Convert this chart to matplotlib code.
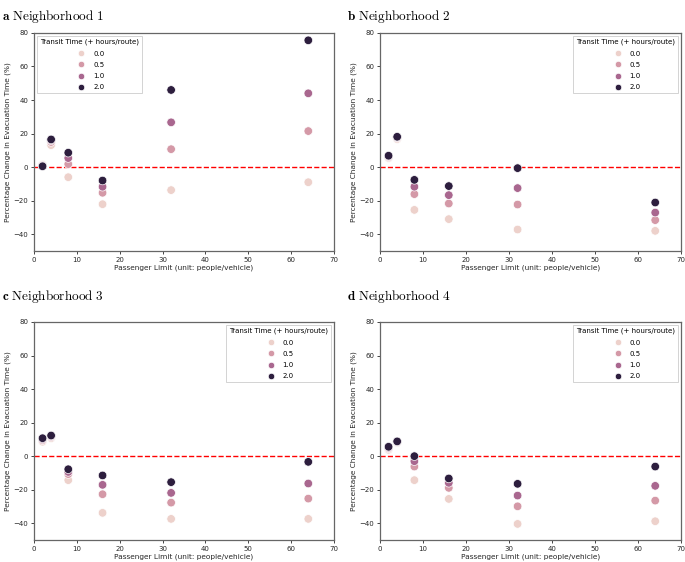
import matplotlib

matplotlib.use("Agg")

import matplotlib.pyplot as plt
import pandas as pd
import seaborn as sns

PASSENGER_LIMITS = [2, 4, 8, 16, 32, 64]
TRANSIT_TIMES = [0.0, 0.5, 1.0, 2.0]

# percentage change, one list per transit time (0.0, 0.5, 1.0, 2.0)
N1_T00 = [1.5, 13.1, -6.0, -22.1, -13.7, -9.0]
N1_T05 = [1.0, 15.0, 1.8, -15.3, 10.7, 21.5]
N1_T10 = [0.8, 16.0, 5.4, -11.7, 26.7, 44.0]
N1_T20 = [0.5, 16.5, 8.6, -8.0, 46.0, 75.6]

N2_T00 = [5.4, 16.7, -25.5, -31.0, -37.2, -38.0]
N2_T05 = [6.0, 17.5, -16.1, -21.7, -22.3, -31.6]
N2_T10 = [6.4, 17.8, -11.7, -16.7, -12.5, -27.1]
N2_T20 = [6.8, 18.1, -7.6, -11.3, -0.6, -21.1]

N3_T00 = [8.6, 10.7, -14.3, -33.8, -37.4, -37.4]
N3_T05 = [9.5, 11.5, -10.7, -22.7, -27.7, -25.3]
N3_T10 = [10.2, 12.0, -9.4, -17.1, -21.9, -16.3]
N3_T20 = [10.7, 12.3, -7.8, -11.5, -15.5, -3.4]

N4_T00 = [3.8, 8.0, -14.3, -25.5, -40.4, -38.8]
N4_T05 = [4.6, 8.4, -6.2, -18.9, -29.9, -26.5]
N4_T10 = [5.1, 8.6, -3.0, -15.9, -23.5, -17.7]
N4_T20 = [5.6, 8.8, 0.0, -13.3, -16.5, -6.2]

PANELS = [
    ("a", "1", [N1_T00, N1_T05, N1_T10, N1_T20], "upper left"),
    ("b", "2", [N2_T00, N2_T05, N2_T10, N2_T20], "upper right"),
    ("c", "3", [N3_T00, N3_T05, N3_T10, N3_T20], "upper right"),
    ("d", "4", [N4_T00, N4_T05, N4_T10, N4_T20], "upper right"),
]

# axes rectangles in figure fractions
AXES_BOXES = [
    (0.0496, 0.5534, 0.438, 0.388),
    (0.5547, 0.5534, 0.4395, 0.388),
    (0.0496, 0.0391, 0.438, 0.388),
    (0.5547, 0.0391, 0.4395, 0.388),
]
TITLE_POS = [(0.003, 0.985), (0.506, 0.985), (0.003, 0.487), (0.506, 0.487)]

SPINE_COLOR = "#666666"
TEXT_COLOR = "#262626"


def build_frame(series):
    rows = []
    for t, values in zip(TRANSIT_TIMES, series):
        for p, v in zip(PASSENGER_LIMITS, values):
            rows.append({"limit": p, "change": v, "transit": t})
    return pd.DataFrame(rows)


def style_axis(ax):
    ax.set_xlim(0, 70)
    ax.set_ylim(-50, 80)
    ax.set_xticks(range(0, 71, 10))
    ax.set_yticks(range(-40, 81, 20))
    ax.tick_params(labelsize=5, length=2.5, width=0.6, pad=1.5,
                   colors=TEXT_COLOR)
    for spine in ax.spines.values():
        spine.set_color(SPINE_COLOR)
        spine.set_linewidth(0.9)
    ax.set_xlabel("Passenger Limit (unit: people/vehicle)", fontsize=5.3,
                  labelpad=1.5, color=TEXT_COLOR)
    ax.set_ylabel("Percentage Change in Evacuation Time (%)", fontsize=5.3,
                  labelpad=2, color=TEXT_COLOR)


def main():
    plt.rcParams["mathtext.fontset"] = "cm"
    fig = plt.figure(figsize=(6.85, 5.62), dpi=100)
    fig.patch.set_facecolor("white")

    for (letter, number, series, loc), box, tpos in zip(PANELS, AXES_BOXES, TITLE_POS):
        ax = fig.add_axes(box)
        frame = build_frame(series)
        sns.scatterplot(data=frame, x="limit", y="change", hue="transit",
                        s=38, ax=ax, legend="full", zorder=3)
        ax.axhline(0, color="red", linestyle="--", linewidth=1.0, zorder=2)
        style_axis(ax)
        leg = ax.legend(title="Transit Time (+ hours/route)", loc=loc,
                        fontsize=5, title_fontsize=5, markerscale=0.75,
                        labelspacing=0.75, handletextpad=0.7,
                        borderaxespad=0.45, fancybox=False, framealpha=1)
        leg.get_frame().set_edgecolor("#cccccc")
        leg.get_frame().set_linewidth(0.6)
        fig.text(tpos[0], tpos[1],
                 r"$\mathbf{" + letter + r"}\ \mathrm{Neighborhood\ " + number + r"}$",
                 fontsize=9.5, ha="left", va="top")

    fig.savefig("out.png", dpi=100, facecolor="white")


if __name__ == "__main__":
    main()
